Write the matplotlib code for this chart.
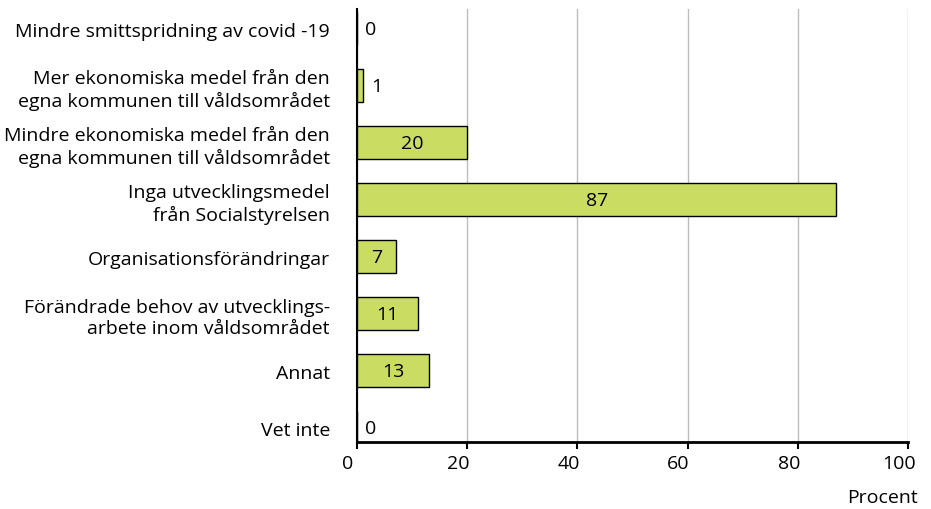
import matplotlib
matplotlib.use("Agg")
import matplotlib.pyplot as plt
from matplotlib.transforms import ScaledTranslation

categories = [
    "Mindre smittspridning av covid -19",
    "Mer ekonomiska medel från den\negna kommunen till våldsområdet",
    "Mindre ekonomiska medel från den\negna kommunen till våldsområdet",
    "Inga utvecklingsmedel\nfrån Socialstyrelsen",
    "Organisationsförändringar",
    "Förändrade behov av utvecklings-\narbete inom våldsområdet",
    "Annat",
    "Vet inte",
]
values = [0, 1, 20, 87, 7, 11, 13, 0]
xticks = [0, 20, 40, 60, 80, 100]
xlabel = "Procent"

FONT = "Open Sans"
FS = 14
plt.rcParams["font.family"] = [FONT, "DejaVu Sans"]

W, H = 931, 510
fig = plt.figure(figsize=(W/100, H/100), dpi=100)
ax = fig.add_axes([357/W, 1-443/H, (908-357)/W, (443-10)/H])

ypos = list(range(len(categories)))
ax.barh(ypos, values, height=0.58, color="#cbdc62", edgecolor="black", linewidth=1.0, zorder=3)

for y, v in zip(ypos, values):
    if v >= 5:
        ax.text(v/2, y, str(v), ha="center", va="center", fontsize=FS, color="black", zorder=4)
    else:
        ax.annotate(str(v), (v, y), xytext=(6, 0), textcoords="offset points",
                    ha="left", va="center", fontsize=FS, color="black", zorder=4)

ax.set_xlim(0, 100)
ax.set_ylim(7.25, -0.35)
ax.set_xticks(xticks)
ax.set_xticklabels([str(t) for t in xticks], fontsize=FS)
ax.set_yticks(ypos)
ax.set_yticklabels(categories, fontsize=FS, linespacing=1.25)
ax.tick_params(axis="y", length=0, pad=19.5)
ax.tick_params(axis="x", length=5, width=1.5, direction="out", pad=4)
shift = ScaledTranslation(-9/100, 0, fig.dpi_scale_trans)
for lbl in ax.get_xticklabels():
    lbl.set_transform(lbl.get_transform() + shift)
ax.xaxis.grid(True, color="#bdbdbd", linewidth=1.0, zorder=0)
ax.set_axisbelow(True)
for s in ["top", "right"]:
    ax.spines[s].set_visible(False)
ax.spines["left"].set_linewidth(1.5)
ax.spines["bottom"].set_linewidth(2)

fig.text(918/W, 1-498/H, xlabel, ha="right", va="center", fontsize=FS)

fig.savefig("out.png", dpi=100)
